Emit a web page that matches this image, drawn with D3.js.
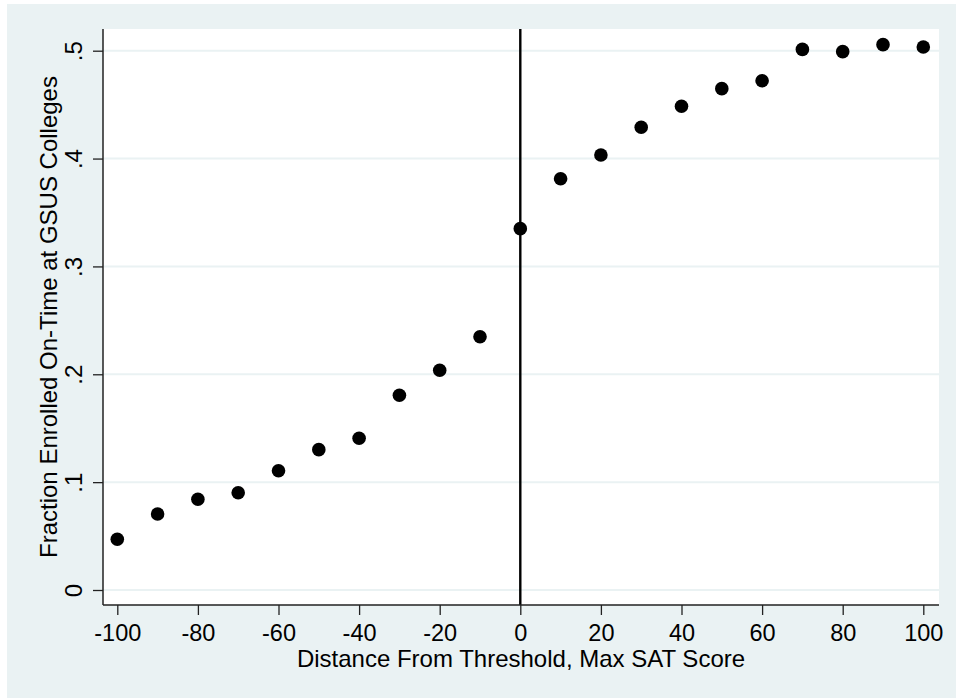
<!DOCTYPE html>
<html>
<head>
<meta charset="utf-8">
<script src="https://cdn.jsdelivr.net/npm/d3@7"></script>
<style>
  html, body { margin: 0; padding: 0; background: #ffffff; }
  svg { display: block; }
  text { font-family: "Liberation Sans", Arial, sans-serif; fill: #000; }
</style>
</head>
<body>
<svg id="chart" width="956" height="698"></svg>
<script>
// ---- data ----
const distance = [-100, -90, -80, -70, -60, -50, -40, -30, -20, -10, 0, 10, 20, 30, 40, 50, 60, 70, 80, 90, 100];
const fraction = [0.0470, 0.0705, 0.0841, 0.0902, 0.1106, 0.1301, 0.1407, 0.1805, 0.2037, 0.2348,
                  0.3350, 0.3813, 0.4033, 0.4290, 0.4485, 0.4648, 0.4722, 0.5012, 0.4991, 0.5056, 0.5034];
const xTicks = [-100, -80, -60, -40, -20, 0, 20, 40, 60, 80, 100];
const xTickLabels = ["-100", "-80", "-60", "-40", "-20", "0", "20", "40", "60", "80", "100"];
const yTicks = [0, 0.1, 0.2, 0.3, 0.4, 0.5];
const yTickLabels = ["0", ".1", ".2", ".3", ".4", ".5"];
const threshold = [0];
const xTitle = "Distance From Threshold, Max SAT Score";
const yTitle = "Fraction Enrolled On-Time at GSUS Colleges";

// ---- layout ----
const W = 956, H = 698;
const plot = { left: 103, right: 939, top: 29, bottom: 605 };
const svg = d3.select("#chart");

// outer graph region
svg.append("rect").attr("x", 7).attr("y", 4).attr("width", W - 7).attr("height", H - 4)
  .attr("fill", "#EAF2F3");
// plot region
svg.append("rect").attr("x", plot.left).attr("y", plot.top)
  .attr("width", plot.right - plot.left).attr("height", plot.bottom - plot.top)
  .attr("fill", "#ffffff");

const x = d3.scaleLinear().domain([-100, 100]).range([117.3, 923.3]);
const y = d3.scaleLinear().domain([0, 0.5]).range([590, 50.7]);

// gridlines
svg.append("g").selectAll("line").data(yTicks).join("line")
  .attr("x1", plot.left).attr("x2", plot.right)
  .attr("y1", d => y(d)).attr("y2", d => y(d))
  .attr("stroke", "#EAF2F3").attr("stroke-width", 2);

// threshold line
svg.append("g").selectAll("line").data(threshold).join("line")
  .attr("x1", d => x(d)).attr("x2", d => x(d))
  .attr("y1", plot.top).attr("y2", plot.bottom)
  .attr("stroke", "#000").attr("stroke-width", 2.4);

// points
svg.append("g").selectAll("circle").data(distance).join("circle")
  .attr("cx", d => x(d)).attr("cy", (d, i) => y(fraction[i]))
  .attr("r", 6.8).attr("fill", "#000");

// x axis
const gx = svg.append("g").attr("transform", `translate(0,${plot.bottom})`)
  .call(d3.axisBottom(x).tickValues(xTicks).tickSize(10).tickPadding(0)
    .tickFormat((d, i) => xTickLabels[i]));
gx.select(".domain").remove();
gx.selectAll(".tick line").attr("stroke", "#222").attr("stroke-width", 1.3);
gx.selectAll(".tick text").attr("y", 35.5).attr("dy", 0)
  .style("font-size", "23.5px").style("font-family", "'Liberation Sans', Arial, sans-serif").attr("fill", "#000");
svg.append("line").attr("x1", plot.left).attr("x2", plot.right)
  .attr("y1", plot.bottom).attr("y2", plot.bottom).attr("stroke", "#222").attr("stroke-width", 1.5);

// y axis
const gy = svg.append("g").attr("transform", `translate(${plot.left},0)`)
  .call(d3.axisLeft(y).tickValues(yTicks).tickSize(10).tickFormat((d, i) => yTickLabels[i]));
gy.select(".domain").remove();
gy.selectAll(".tick line").attr("stroke", "#222").attr("stroke-width", 1.3);
gy.selectAll(".tick text")
  .attr("transform", "rotate(-90)")
  .attr("x", 0).attr("y", -21).attr("dy", 0)
  .attr("text-anchor", "middle")
  .style("font-size", "24px").style("font-family", "'Liberation Sans', Arial, sans-serif").attr("fill", "#000");
svg.append("line").attr("x1", plot.left).attr("x2", plot.left)
  .attr("y1", plot.top).attr("y2", plot.bottom).attr("stroke", "#222").attr("stroke-width", 1.5);

// titles
svg.append("text").attr("x", (plot.left + plot.right) / 2).attr("y", 667)
  .attr("text-anchor", "middle").style("font-size", "24px").text(xTitle);
svg.append("text")
  .attr("transform", `translate(56.5,${(plot.top + plot.bottom) / 2}) rotate(-90)`)
  .attr("text-anchor", "middle").style("font-size", "24px").text(yTitle);
</script>
</body>
</html>
